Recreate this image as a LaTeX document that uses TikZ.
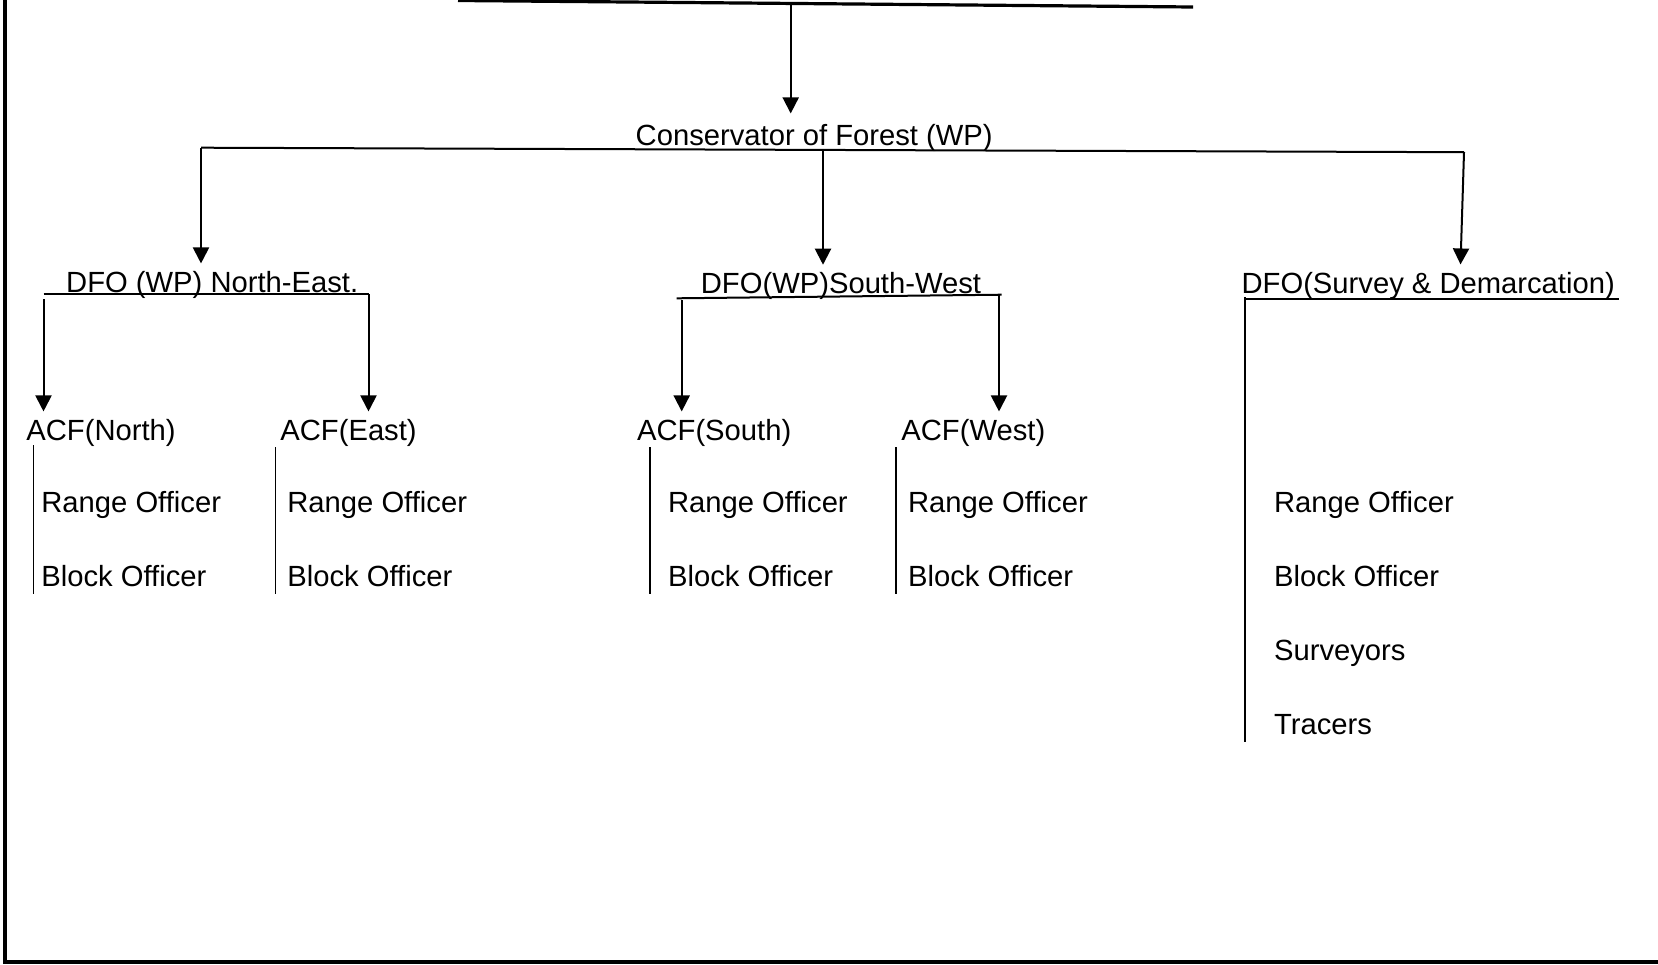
\documentclass[tikz,border=0pt]{standalone}
\usepackage{fontspec}
\setmainfont{Liberation Sans}
\usetikzlibrary{arrows.meta}
\usetikzlibrary{positioning}

\begin{document}
\begin{tikzpicture}[x=0.5pt,y=-0.5pt,>={Triangle[length=8pt,width=8pt]},
  link/.style={line width=1pt},
  bar/.style={line width=0.75pt},
  post node/.style={font=\fontsize{14.6}{17}\selectfont,inner xsep=0pt,inner ysep=3.5pt,anchor=base west}]

  \useasboundingbox (0,0) rectangle (1658,964);
  \draw[line width=2pt] (4.5,-10) -- (4.5,962) -- (1670,962);

  % offices
  \node[post node,inner ysep=5pt] (cf) at (635.3,145) {Conservator of Forest (WP)};
  \node[post node] (dfone) at (65.8,292) {DFO (WP) North-East.};
  \node[post node] (dfosw) at (700.5,293.3) {DFO(WP)South-West};
  \node[post node] (dfosd) at (1241.2,293) {DFO(Survey \& Demarcation)};

  \node[post node] (acfn) at (26,440) {ACF(North)};
  \node[post node] (acfe) at (280,440) {ACF(East)};
  \node[post node] (acfs) at (636.7,440) {ACF(South)};
  \node[post node] (acfw) at (901,440) {ACF(West)};

  \node[post node] (ron) at (41,512.5) {Range Officer};
  \node[post node] (bon) [below=37pt of ron.base west,anchor=base west] {Block Officer};
  \node[post node] (roe) at (287,512.5) {Range Officer};
  \node[post node] (boe) [below=37pt of roe.base west,anchor=base west] {Block Officer};
  \node[post node] (ros) at (667.7,512.5) {Range Officer};
  \node[post node] (bos) [below=37pt of ros.base west,anchor=base west] {Block Officer};
  \node[post node] (row) at (907.7,512.5) {Range Officer};
  \node[post node] (bow) [below=37pt of row.base west,anchor=base west] {Block Officer};
  \node[post node] (rod) at (1273.7,512.5) {Range Officer};
  \node[post node] (bod) [below=37pt of rod.base west,anchor=base west] {Block Officer};
  \node[post node] (sv) [below=37pt of bod.base west,anchor=base west] {Surveyors};
  \node[post node] (tr) [below=37pt of sv.base west,anchor=base west] {Tracers};

  % top
  \coordinate (topl) at (458,0.5);
  \coordinate (topr) at (1193,7);
  \coordinate (topm) at (790.7,3.8);
  \draw[line width=1.6pt] (topl) -- (topr);
  \draw[link,->] (topm) -- (topm |- cf.north);

  % conservator to DFOs
  \coordinate (cl) at (201,147.7);
  \coordinate (cm) at (823,150.2);
  \coordinate (cr) at (1464,152.2);
  \draw[link] (cl) -- (cr);
  \draw[link,->] (cl) -- (cl |- dfone.north);
  \draw[link,->] (cm) -- (cm |- dfosw.north);
  \draw[link,->] (cr) -- ([xshift=-1.75pt]cr |- dfosd.north);

  % DFO to ACFs
  \coordinate (nel) at (43.5,294.3);
  \coordinate (ner) at (368.5,294.3);
  \draw[link] (nel) -- (ner);
  \draw[link,->] ([yshift=-2.5pt]nel) -- (nel |- acfn.north);
  \draw[link,->] (ner) -- (ner |- acfe.north);

  \coordinate (swl) at (676.7,298.3);
  \coordinate (swr) at (1001.7,294.7);
  \coordinate (swa) at (681.7,300);
  \coordinate (swb) at (999,295);
  \draw[link] (swl) -- (swr);
  \draw[link,->] (swa) -- (swa |- acfs.north);
  \draw[link,->] (swb) -- (swb |- acfw.north);

  \coordinate (sdl) at (1245,299);
  \coordinate (sdr) at (1619,299);
  \draw[link] (sdl) -- (sdr);
  \draw[bar] ([yshift=1pt]sdl) -- (sdl |- tr.south);

  % staff bars
  \coordinate (bn) at (33.3,445);
  \coordinate (be) at (275.3,447);
  \coordinate (bs) at (650,447);
  \coordinate (bw) at (896,447);
  \draw[bar] (bn) -- (bn |- bon.south);
  \draw[bar] (be) -- (be |- boe.south);
  \draw[bar] (bs) -- (bs |- bos.south);
  \draw[bar] (bw) -- (bw |- bow.south);
\end{tikzpicture}
\end{document}
